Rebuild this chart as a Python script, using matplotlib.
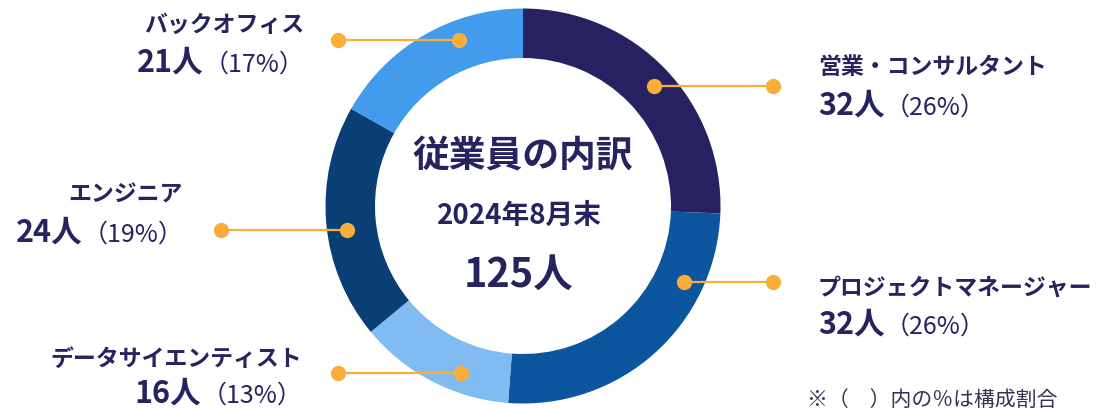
import numpy as np
import matplotlib
matplotlib.use('Agg')
import matplotlib.pyplot as plt

# data
categories = ['営業・コンサルタント', 'プロジェクトマネージャー', 'データサイエンティスト', 'エンジニア', 'バックオフィス']
counts = [32, 32, 16, 24, 21]
percents = [26, 26, 13, 19, 17]
colors = ['#262262', '#0c56a0', '#80bbf2', '#0a3f75', '#429bed']
center_title = '従業員の内訳'
center_date = '2024年8月末'
center_total = '125人'
note = '※（　）内の％は構成割合'

W, H = 1105, 410
NAVY = '#27235f'
ORANGE = '#f8ae38'
plt.rcParams['font.family'] = ['Noto Sans CJK JP', 'DejaVu Sans']

fig = plt.figure(figsize=(W / 100, H / 100), dpi=100)
ax = fig.add_axes([0, 0, 1, 1])

# everything below is in pixel coords, y measured from the top
def py(y):
    return H - y

cx, cy = 523, 207
r_out, ring = 197.5, 49.5
r_dot = 178

ax.pie(counts, colors=colors, startangle=90, counterclock=False,
       center=(cx, py(cy)), radius=r_out,
       wedgeprops=dict(width=ring, linewidth=0))
ax.set_xlim(0, W)
ax.set_ylim(0, H)
ax.set_aspect('equal')
ax.axis('off')

# label layout: side, leader y, leader end x, text x, title y, number baseline
layout = [
    ('right', 87, 773, 818, 67, 115),
    ('right', 283, 773, 818, 288, 334),
    ('left', 374, 338, 302, 359, 403),
    ('left', 231, 221, 183, 195, 242),
    ('left', 41, 338, 304, 25, 72),
]

renderer = fig.canvas.get_renderer()

def width_of(t):
    return t.get_window_extent(renderer).width

for cat, n, p, (side, ly, ex, tx, ty, nb) in zip(categories, counts, percents, layout):
    dx = np.sqrt(r_dot ** 2 - (ly - cy) ** 2)
    dot_x = cx + dx if side == 'right' else cx - dx
    ax.plot([dot_x, ex], [py(ly), py(ly)], color=ORANGE, lw=1.6, zorder=3)
    ax.plot([dot_x, ex], [py(ly), py(ly)], 'o', color=ORANGE, ms=11, mew=0, zorder=4)

    ha = 'left' if side == 'right' else 'right'
    ax.text(tx, py(ty), cat, ha=ha, va='center', fontsize=16.5,
            fontweight='bold', color=NAVY)

    bold = f'{n}人'
    light = f'（{p}%）'
    if side == 'right':
        t1 = ax.text(tx, py(nb), bold, ha='left', va='baseline', fontsize=22,
                     fontweight='bold', color=NAVY)
        ax.text(tx + width_of(t1), py(nb), light, ha='left', va='baseline',
                fontsize=18, color=NAVY)
    else:
        t2 = ax.text(tx, py(nb), light, ha='right', va='baseline',
                     fontsize=18, color=NAVY)
        ax.text(tx - width_of(t2), py(nb), bold, ha='right', va='baseline',
                fontsize=22, fontweight='bold', color=NAVY)

ax.text(cx, py(157), center_title, ha='center', va='center', fontsize=26.5,
        fontweight='bold', color=NAVY)
ax.text(cx - 4, py(216), center_date, ha='center', va='center', fontsize=20,
        fontweight='bold', color=NAVY)
ax.text(cx - 4, py(287), center_total, ha='center', va='baseline', fontsize=28.5,
        fontweight='bold', color=NAVY)

ax.text(807, py(400), note, ha='left', va='center', fontsize=15,
        color='#333355')

fig.savefig('out.png', dpi=100)
